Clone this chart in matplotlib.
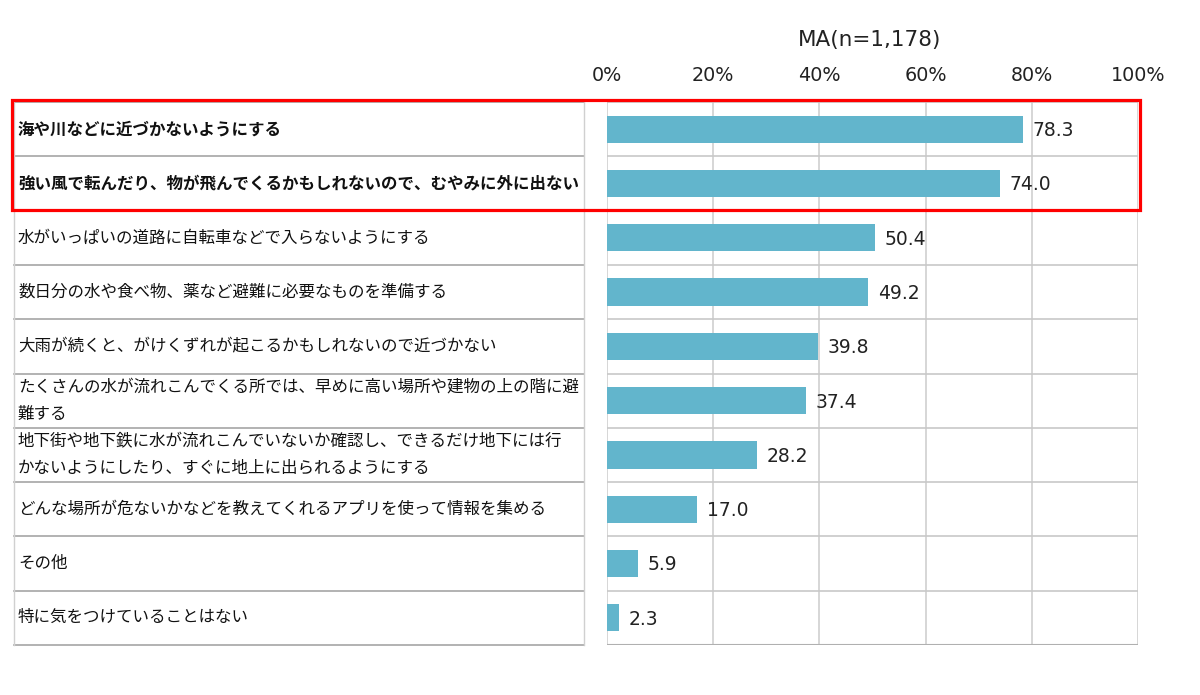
import matplotlib
matplotlib.use("Agg")
import matplotlib.pyplot as plt
import matplotlib.transforms as mtransforms
from matplotlib.patches import Rectangle
from matplotlib.lines import Line2D

plt.rcParams['font.family'] = ['Noto Sans CJK JP', 'DejaVu Sans']
NUMFONT = ['DejaVu Sans']

categories = [
    "海や川などに近づかないようにする",
    "強い風で転んだり、物が飛んでくるかもしれないので、むやみに外に出ない",
    "水がいっぱいの道路に自転車などで入らないようにする",
    "数日分の水や食べ物、薬など避難に必要なものを準備する",
    "大雨が続くと、がけくずれが起こるかもしれないので近づかない",
    "たくさんの水が流れこんでくる所では、早めに高い場所や建物の上の階に避\n難する",
    "地下街や地下鉄に水が流れこんでいないか確認し、できるだけ地下には行\nかないようにしたり、すぐに地上に出られるようにする",
    "どんな場所が危ないかなどを教えてくれるアプリを使って情報を集める",
    "その他",
    "特に気をつけていることはない",
]
values = [78.3, 74.0, 50.4, 49.2, 39.8, 37.4, 28.2, 17.0, 5.9, 2.3]
bold_rows = [0, 1]
xticks = [0, 20, 40, 60, 80, 100]
title = "MA(n=1,178)"

W, H = 1200, 695
fig = plt.figure(figsize=(W / 100, H / 100), dpi=100)

left_px, right_px, top_px, bot_px = 607, 1138, 102, 645
ax = fig.add_axes([left_px / W, 1 - bot_px / H, (right_px - left_px) / W, (bot_px - top_px) / H])

n = len(categories)
ypos = [i + 0.5 for i in range(n)]
ax.barh(ypos, values, height=0.5, color="#62B5CC", edgecolor="none", zorder=3)
ax.set_xlim(0, 100)
ax.set_ylim(n, 0)

# grid in plot area
for x in xticks:
    ax.axvline(x, color="#D0D0D0", lw=1.2, zorder=1)
for i in range(n + 1):
    ax.axhline(i, color="#C8C8C8", lw=1.2, zorder=1)
ax.axhline(n, color="#B0B0B0", lw=1.5, zorder=1)

for s in ax.spines.values():
    s.set_visible(False)
ax.set_yticks([])
ax.set_xticks(xticks)
ax.set_xticklabels([f"{x}%" for x in xticks], fontsize=13.8, color="#222222", family=NUMFONT)
ax.xaxis.tick_top()
ax.tick_params(axis="x", length=0, pad=12)

# value labels
for y, v in zip(ypos, values):
    ax.annotate(f"{v:.1f}", (v, y), xytext=(7, -1), textcoords="offset points",
                ha="left", va="center", fontsize=13.5, color="#222222", zorder=4,
                family=NUMFONT)

# label column
trans = mtransforms.blended_transform_factory(ax.transAxes, ax.transData)
span = right_px - left_px
lx0 = (14 - left_px) / span
lx1 = (584 - left_px) / span
tx = (18 - left_px) / span
for i in range(n + 1):
    ax.add_line(Line2D([lx0, lx1], [i, i], transform=trans, color="#A6A6A6", lw=1.2, clip_on=False))
for xx in (lx0, lx1):
    ax.add_line(Line2D([xx, xx], [0, n], transform=trans, color="#D0D0D0", lw=1.0, clip_on=False))
for i, (lab, y) in enumerate(zip(categories, ypos)):
    ax.text(tx, y, lab, transform=trans, ha="left", va="center", fontsize=11.9,
            fontweight="bold" if i in bold_rows else "normal", color="#111111",
            linespacing=1.75)

# title
fig.text(870 / W, 1 - 40 / H, title, ha="center", va="center", fontsize=15.5,
         color="#222222", family=NUMFONT)

# red highlight box
fig.add_artist(Rectangle((12 / W, 1 - 210 / H), (1140 - 12) / W, (210 - 100) / H,
                         transform=fig.transFigure, fill=False, edgecolor="#FF0000", lw=2.3))

fig.savefig("out.png", dpi=100)
